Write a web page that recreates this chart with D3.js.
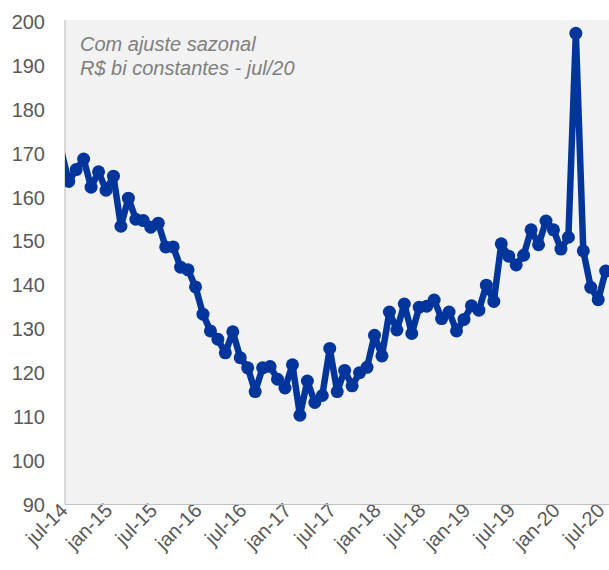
<!DOCTYPE html>
<html>
<head>
<meta charset="utf-8">
<script src="https://d3js.org/d3.v7.min.js"></script>
<style>
    body { margin: 0; background: #ffffff; }
    #chart { width: 609px; height: 570px; }
    .ticktext { font-family: "Liberation Sans", Arial, sans-serif; font-size: 20px; fill: #595959; }
    .nota { font-family: "Liberation Sans", Arial, sans-serif; font-size: 20px; font-style: italic; fill: #7f7f7f; }
</style>
</head>
<body>
<div id="chart"></div>
<script>
// first month shown is jun-14 (clipped by the axis), then jul-14 ... jul-20
var firstMonth = new Date(2014, 5, 1);
var lastMonth = new Date(2020, 6, 1);

// R$ bi constantes, com ajuste sazonal
var values = [
    170.5,
    163.5, 166.2, 168.6, 162.2, 165.7, 161.5, 164.7, 153.3, 159.7, 154.9, 154.6, 153.1,
    154.0, 148.6, 148.6, 144.0, 143.4, 139.5, 133.3, 129.5, 127.6, 124.5, 129.3, 123.4,
    121.1, 115.7, 121.1, 121.4, 118.5, 116.5, 121.8, 110.3, 118.1, 113.2, 114.8, 125.5,
    115.7, 120.5, 117.0, 120.0, 121.2, 128.5, 123.8, 133.8, 129.7, 135.6, 128.9, 134.9,
    135.1, 136.5, 132.3, 133.8, 129.5, 132.1, 135.2, 134.2, 139.9, 136.2, 149.3, 146.5,
    144.5, 146.7, 152.5, 149.1, 154.5, 152.5, 148.1, 150.8, 197.2, 147.7, 139.4, 136.6,
    143.1
];

var xTickLabels = ["jul-14", "jan-15", "jul-15", "jan-16", "jul-16", "jan-17", "jul-17",
                   "jan-18", "jul-18", "jan-19", "jul-19", "jan-20", "jul-20"];
var yTicks = [90, 100, 110, 120, 130, 140, 150, 160, 170, 180, 190, 200];
var noteLines = ["Com ajuste sazonal", "R$ bi constantes - jul/20"];

var width = 609, height = 570;
var plot = {left: 65, right: 609.4, top: 21, bottom: 504.5};

var months = d3.timeMonth.range(firstMonth, d3.timeMonth.offset(lastMonth, 1));
var data = months.map(function(m, i) {
    return {month: m, idx: i - 1, value: values[i]};
});
var nCats = data.length - 1;   // categories from jul-14 to jul-20

var svg = d3.select("#chart").append("svg")
    .attr("width", width)
    .attr("height", height);

// each month takes one slot, the point sits in the middle of it
var x = d3.scaleLinear()
    .domain([-0.5, nCats - 0.5])
    .range([plot.left, plot.right]);

var y = d3.scaleLinear()
    .domain([90, 200])
    .range([plot.bottom, plot.top]);

svg.append("rect")
    .attr("x", plot.left)
    .attr("y", plot.top - 1)
    .attr("width", plot.right - plot.left)
    .attr("height", plot.bottom - plot.top + 1)
    .attr("fill", "#f2f2f2");

svg.append("defs").append("clipPath")
    .attr("id", "plotclip")
    .append("rect")
    .attr("x", plot.left)
    .attr("y", 0)
    .attr("width", plot.right - plot.left)
    .attr("height", height);

//y axis: labels only
var yAxis = d3.axisLeft(y)
    .tickValues(yTicks)
    .tickSize(0)
    .tickPadding(20);
var gy = svg.append("g")
    .attr("transform", "translate(" + plot.left + ",0)")
    .call(yAxis);
gy.select(".domain").remove();
gy.selectAll("text").attr("class", "ticktext").attr("dy", "0.36em");

//x axis: rotated month labels every six months
var xAxis = d3.axisBottom(x)
    .tickValues(d3.range(0, nCats, 6))
    .tickFormat(function(d, i) { return xTickLabels[i]; })
    .tickSize(0);
var gx = svg.append("g")
    .attr("transform", "translate(0," + plot.bottom + ")")
    .call(xAxis);
gx.select(".domain").remove();
gx.selectAll("text")
    .attr("class", "ticktext")
    .attr("text-anchor", "end")
    .attr("y", 0)
    .attr("dy", "0.36em")
    .attr("transform", "translate(-5.5,2) rotate(-45)");

// plot borders
svg.append("line")
    .attr("x1", plot.left).attr("x2", plot.left)
    .attr("y1", plot.top - 1).attr("y2", plot.bottom)
    .attr("stroke", "#c0c0c0").attr("stroke-width", 1.2);
svg.append("line")
    .attr("x1", plot.left).attr("x2", plot.right)
    .attr("y1", plot.bottom).attr("y2", plot.bottom)
    .attr("stroke", "#c0c0c0").attr("stroke-width", 1.2);

var series = svg.append("g").attr("clip-path", "url(#plotclip)");

var line = d3.line()
    .x(function(d) { return x(d.idx); })
    .y(function(d) { return y(d.value); });

series.append("path")
    .datum(data)
    .attr("d", line)
    .attr("fill", "none")
    .attr("stroke", "#00359c")
    .attr("stroke-width", 6.5)
    .attr("stroke-linejoin", "round");

// markers only for the months that are on the axis
series.selectAll("circle")
    .data(data.filter(function(d) { return d.idx >= 0; }))
    .enter()
    .append("circle")
    .attr("cx", function(d) { return x(d.idx); })
    .attr("cy", function(d) { return y(d.value); })
    .attr("r", 6.5)
    .attr("fill", "#00359c");

// note in the top left corner
svg.selectAll(".nota")
    .data(noteLines)
    .enter()
    .append("text")
    .attr("class", "nota")
    .attr("x", 80)
    .attr("y", function(d, i) { return 51 + i * 23.5; })
    .text(function(d) { return d; });
</script>
</body>
</html>
